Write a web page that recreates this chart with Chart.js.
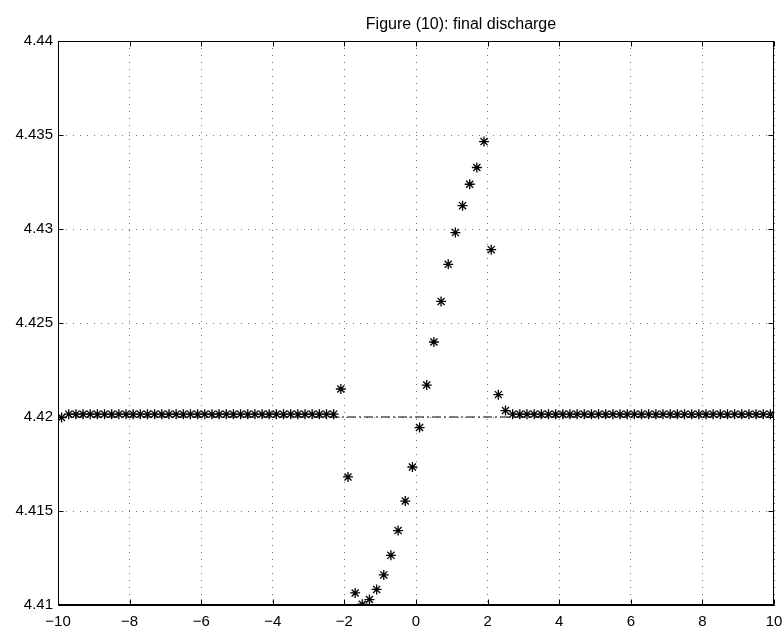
<!DOCTYPE html>
<html>
<head>
<meta charset="utf-8">
<title>Figure (10): final discharge</title>
<script src="https://cdn.jsdelivr.net/npm/chart.js@4"></script>
<style>
  html, body { margin: 0; padding: 0; background: #fff; }
  #wrap { width: 784px; height: 630px; }
</style>
</head>
<body>
<div id="wrap"><canvas id="chart" width="784" height="630"></canvas></div>
<script>
// Data
const xValues = [
  -9.9, -9.7, -9.5, -9.3, -9.1, -8.9, -8.7, -8.5, -8.3, -8.1,
  -7.9, -7.7, -7.5, -7.3, -7.1, -6.9, -6.7, -6.5, -6.3, -6.1,
  -5.9, -5.7, -5.5, -5.3, -5.1, -4.9, -4.7, -4.5, -4.3, -4.1,
  -3.9, -3.7, -3.5, -3.3, -3.1, -2.9, -2.7, -2.5, -2.3, -2.1,
  -1.9, -1.7, -1.5, -1.3, -1.1, -0.9, -0.7, -0.5, -0.3, -0.1,
  0.1, 0.3, 0.5, 0.7, 0.9, 1.1, 1.3, 1.5, 1.7, 1.9,
  2.1, 2.3, 2.5, 2.7, 2.9, 3.1, 3.3, 3.5, 3.7, 3.9,
  4.1, 4.3, 4.5, 4.7, 4.9, 5.1, 5.3, 5.5, 5.7, 5.9,
  6.1, 6.3, 6.5, 6.7, 6.9, 7.1, 7.3, 7.5, 7.7, 7.9,
  8.1, 8.3, 8.5, 8.7, 8.9, 9.1, 9.3, 9.5, 9.7, 9.9
];
const dischargeValues = [
  4.41997, 4.42015, 4.42015, 4.42015, 4.42015, 4.42015, 4.42015, 4.42015, 4.42015, 4.42015,
  4.42015, 4.42015, 4.42015, 4.42015, 4.42015, 4.42015, 4.42015, 4.42015, 4.42015, 4.42015,
  4.42015, 4.42015, 4.42015, 4.42015, 4.42015, 4.42015, 4.42015, 4.42015, 4.42015, 4.42015,
  4.42015, 4.42015, 4.42015, 4.42015, 4.42015, 4.42015, 4.42015, 4.42015, 4.42015, 4.42149,
  4.41681, 4.41064, 4.41004, 4.41029, 4.41083, 4.41160, 4.41264, 4.41396, 4.41553, 4.41734,
  4.41944, 4.42170, 4.42399, 4.42615, 4.42812, 4.42981, 4.43124, 4.43238, 4.43327, 4.43465,
  4.42890, 4.42119, 4.42034, 4.42015, 4.42015, 4.42015, 4.42015, 4.42015, 4.42015, 4.42015,
  4.42015, 4.42015, 4.42015, 4.42015, 4.42015, 4.42015, 4.42015, 4.42015, 4.42015, 4.42015,
  4.42015, 4.42015, 4.42015, 4.42015, 4.42015, 4.42015, 4.42015, 4.42015, 4.42015, 4.42015,
  4.42015, 4.42015, 4.42015, 4.42015, 4.42015, 4.42015, 4.42015, 4.42015, 4.42015, 4.42015
];

// dash-dot reference level
const refLineX = [-10, 10];
const refLineY = [4.42, 4.42];

// axis ticks
const xTicks = [-10, -8, -6, -4, -2, 0, 2, 4, 6, 8, 10];
const xTickLabels = ['\u221210', '\u22128', '\u22126', '\u22124', '\u22122', '0', '2', '4', '6', '8', '10'];
const yTicks = [4.41, 4.415, 4.42, 4.425, 4.43, 4.435, 4.44];
const yTickLabels = ['4.41', '4.415', '4.42', '4.425', '4.43', '4.435', '4.44'];

const titleText = 'Figure (10): final discharge';
const fontFamily = 'Helvetica, Arial, "Liberation Sans", sans-serif';

function toPoints(xs, ys) {
    return xs.map((x, i) => ({ x: x, y: ys[i] }));
}

// box around the axes, inward ticks and the title
const framePlugin = {
    id: 'frame',
    afterDraw(chart) {
        const ctx = chart.ctx;
        const a = chart.chartArea;
        const xs = chart.scales.x;
        const ys = chart.scales.y;
        const l = Math.round(a.left) + 0.5, r = Math.round(a.right) - 0.5;
        const t = Math.round(a.top) + 0.5, b = Math.round(a.bottom) - 0.5;
        ctx.save();
        ctx.strokeStyle = '#000';
        ctx.lineWidth = 1;
        ctx.setLineDash([]);
        ctx.strokeRect(l, t, r - l, b - t);
        ctx.beginPath();
        xTicks.forEach(v => {
            const px = Math.round(xs.getPixelForValue(v)) + 0.5;
            ctx.moveTo(px, b); ctx.lineTo(px, b - 5);
            ctx.moveTo(px, t); ctx.lineTo(px, t + 5);
        });
        yTicks.forEach(v => {
            const py = Math.round(ys.getPixelForValue(v)) + 0.5;
            ctx.moveTo(l, py); ctx.lineTo(l + 5, py);
            ctx.moveTo(r, py); ctx.lineTo(r - 5, py);
        });
        ctx.stroke();
        ctx.fillStyle = '#000';
        ctx.font = '16px ' + fontFamily;
        ctx.textAlign = 'center';
        ctx.textBaseline = 'alphabetic';
        ctx.fillText(titleText, 461, 29);
        ctx.restore();
    }
};

const gridStyle = {
    color: 'rgba(0,0,0,0.55)',
    lineWidth: 1,
    drawTicks: false
};

new Chart(document.getElementById('chart'), {
    type: 'scatter',
    data: {
        datasets: [
            {
                label: 'discharge',
                data: toPoints(xValues, dischargeValues),
                showLine: false,
                pointStyle: 'star',
                pointRadius: 5,
                pointBorderWidth: 1.3,
                borderColor: '#000',
                backgroundColor: '#000',
                order: 1
            },
            {
                label: 'level',
                data: toPoints(refLineX, refLineY),
                showLine: true,
                pointRadius: 0,
                borderColor: '#000',
                borderWidth: 1.2,
                borderDash: [9, 3, 2, 3],
                fill: false,
                order: 2
            }
        ]
    },
    options: {
        responsive: false,
        animation: false,
        events: [],
        layout: { padding: { top: 41, right: 10, left: 0, bottom: 0 } },
        plugins: {
            legend: { display: false },
            tooltip: { enabled: false },
            title: { display: false }
        },
        scales: {
            x: {
                type: 'linear',
                min: -10,
                max: 10,
                afterBuildTicks: scale => { scale.ticks = xTicks.map(v => ({ value: v })); },
                afterFit: scale => {
                    scale.height = 25;
                    scale.paddingLeft = 0;
                    scale.paddingRight = 0;
                },
                ticks: {
                    color: '#000',
                    padding: 8,
                    maxRotation: 0,
                    autoSkip: false,
                    font: { family: fontFamily, size: 15 },
                    callback: (v, i) => xTickLabels[i]
                },
                grid: gridStyle,
                border: { display: true, color: '#000', dash: [1, 6] }
            },
            y: {
                type: 'linear',
                min: 4.41,
                max: 4.44,
                afterBuildTicks: scale => { scale.ticks = yTicks.map(v => ({ value: v })); },
                afterFit: scale => { scale.width = 58; },
                ticks: {
                    color: '#000',
                    padding: 5,
                    autoSkip: false,
                    font: { family: fontFamily, size: 15 },
                    callback: (v, i) => yTickLabels[i]
                },
                grid: gridStyle,
                border: { display: true, color: '#000', dash: [1, 6] }
            }
        }
    },
    plugins: [framePlugin]
});
</script>
</body>
</html>
